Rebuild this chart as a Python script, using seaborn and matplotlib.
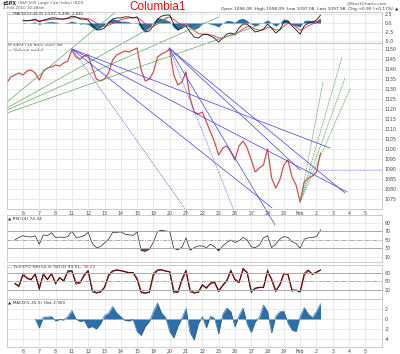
import matplotlib
matplotlib.use("Agg")
import matplotlib.pyplot as plt
import numpy as np
import pandas as pd
import seaborn as sns

# x axis in trading days (day 0 = Jan 6), one reading every quarter day
day_labels = ["6", "7", "8", "11", "12", "13", "14", "15", "19", "20", "21",
              "22", "25", "26", "27", "28", "29", "Feb", "2", "3", "4", "5"]
t = np.arange(78) * 0.25 - 1.0
nan = np.nan

price = [1133.0, 1136.0, 1137.0, 1138.0, 1137.0, 1139.0, 1139.5, 1138.0, 1134.5, 1139.0,
         1140.5, 1141.0, 1142.0, 1141.5, 1143.0, 1144.0, 1149.5, 1146.0, 1145.0, 1146.5,
         1147.0, 1140.5, 1135.0, 1134.0, 1135.0, 1138.0, 1144.5, 1147.0, 1148.0, 1149.0,
         1148.5, 1149.5, 1150.5, 1139.5, 1134.0, 1135.0, 1138.5, 1146.0, 1147.5, 1148.5,
         1150.0, 1137.0, 1132.0, 1133.5, 1138.5, 1125.5, 1118.5, 1117.5, 1118.5, 1113.5,
         1108.5, 1103.5, 1097.0, 1100.5, 1101.5, 1098.5, 1094.5, 1101.5, 1104.0, 1100.5,
         1094.5, 1088.5, 1090.5, 1092.0, 1100.0, 1085.5, 1080.5, 1084.5, 1092.0, 1094.5,
         1086.0, 1082.0, 1073.5, 1083.5, 1085.5, 1086.5, 1088.5, 1098.0]

macd_line = [nan] * 4 + [
    0.8, 0.6, 0.8, 1.1, 0.3, 0.8, 1.1, 1.4, 1.4, 1.1, 1.1, 1.4, 1.9, 1.7, 1.1, 1.1, 0.8, -0.6,
    -1.9, -1.9, -1.4, 0.0, 1.1, 1.4, 1.4, 1.7, 1.7, 1.4, 1.7, -0.8, -2.5, -2.2, -0.8, 1.1, 1.9,
    2.2, 2.2, -0.3, -1.9, -1.4, -0.8, -2.5, -3.9, -4.2, -3.3, -3.1, -3.6, -4.2, -5.3, -4.2, -3.1,
    -2.8, -3.1, -1.4, -0.3, -0.3, -1.4, -2.5, -2.2, -1.7, -0.3, -1.4, -2.8, -1.9, 0.3, 0.6, -0.8,
    -1.9, -3.1, -0.8, 0.0, 0.3, 0.8, 2.2]
macd_signal = [nan] * 4 + [
    0.6, 0.6, 0.7, 0.8, 0.7, 0.7, 0.8, 1.0, 1.1, 1.1, 1.1, 1.2, 1.4, 1.5, 1.4, 1.3, 1.2, 0.7,
    0.0, -0.6, -0.9, -0.6, -0.1, 0.5, 0.9, 1.2, 1.4, 1.4, 1.5, 0.8, -0.2, -0.9, -1.0, -0.3, 0.6,
    1.3, 1.7, 1.0, 0.1, -0.4, -0.6, -1.2, -2.1, -2.9, -3.1, -3.1, -3.3, -3.6, -4.2, -4.2, -3.8,
    -3.4, -3.3, -2.5, -1.6, -1.0, -1.1, -1.7, -2.0, -1.9, -1.2, -1.3, -1.9, -1.9, -0.9, -0.1, -0.4,
    -1.1, -2.0, -1.5, -0.8, -0.3, 0.2, 1.1]
macd_hist = [nan] * 4 + [
    0.2, 0.0, 0.1, 0.3, -0.4, 0.1, 0.3, 0.4, 0.3, 0.0, 0.0, 0.2, 0.5, 0.2, -0.3, -0.2, -0.4, -1.3,
    -1.9, -1.3, -0.5, 0.6, 1.2, 0.9, 0.5, 0.5, 0.3, 0.0, 0.2, -1.6, -2.3, -1.3, 0.2, 1.4, 1.3,
    0.9, 0.5, -1.3, -2.0, -1.0, -0.2, -1.3, -1.8, -1.3, -0.2, 0.0, -0.3, -0.6, -1.1, 0.0, 0.7,
    0.6, 0.2, 1.1, 1.3, 0.7, -0.3, -0.8, -0.2, 0.2, 0.9, -0.1, -0.9, 0.0, 1.2, 0.7, -0.4,
    -0.8, -1.1, 0.7, 0.8, 0.6, 0.6, 1.1]

rsi = [nan, nan, 50, 56, 60, 58, 57, 60, 40, 62, 60, 67, 56, 57, 56, 58, 71, 56, 57, 60,
       68, 42, 32, 34, 43, 52, 68, 68, 69, 64, 62, 61, 69, 25, 23, 28, 45, 70, 73, 71,
       70, 30, 27, 33, 55, 26, 32, 36, 36, 32, 40, 34, 24, 36, 44, 50, 44, 48, 56, 50,
       34, 32, 38, 55, 60, 32, 40, 52, 58, 56, 46, 42, 30, 52, 55, 56, 58, 74]

sto_k = [nan, nan, 45, 30, 80, 60, 55, 80, 20, 80, 55, 80, 40, 65, 50, 88, 88, 40, 45, 75,
         90, 13, 9, 13, 31, 75, 88, 91, 88, 84, 80, 82, 55, 9, 9, 12, 80, 91, 91, 86,
         84, 9, 12, 60, 91, 13, 9, 12, 40, 25, 45, 48, 13, 38, 55, 91, 55, 45, 98, 80,
         10, 27, 30, 28, 91, 55, 13, 40, 80, 75, 15, 20, 13, 80, 91, 73, 84, 91]
sto_d = [nan, nan, 42, 35, 72, 62, 57, 75, 28, 74, 58, 76, 45, 62, 53, 84, 87, 46, 46, 70,
         86, 20, 10, 13, 28, 69, 86, 90, 88, 85, 81, 81, 60, 14, 9, 12, 72, 89, 91, 87,
         84, 16, 12, 54, 86, 20, 10, 12, 36, 28, 42, 47, 18, 35, 52, 86, 58, 47, 92, 82,
         16, 25, 29, 29, 84, 58, 18, 37, 76, 76, 20, 19, 14, 72, 89, 76, 82, 90]

hist2 = [nan] * 7 + [
    0.0, -1.8, 0.4, 0.4, 0.5, -0.4, -0.1, -0.2, 0.5, 1.7, 0.0, -0.5, -0.3, -1.8, -1.5, -2.0,
    -1.0, 0.7, 1.2, 2.5, 1.2, 0.5, -0.3, -0.4, -0.1, -2.5, -3.3, -1.5, -0.5, 1.5, 3.2, 1.2,
    0.3, -2.5, -3.8, -1.5, 0.2, 2.1, -2.8, -4.2, -1.0, 0.5, -1.8, 0.6, 0.1, -3.0, 1.0, 2.2,
    1.5, -1.6, 0.7, 2.2, -1.0, -2.7, -0.5, 0.3, 2.8, 1.5, -2.8, 0.5, 1.5, 1.6, -0.8, -2.2,
    -2.5, 0.5, 2.3, 1.0, 0.3, 1.5, 3.1]

# drawn trend lines (day, price) -> (day, price)
green_left = [(-0.98, 1123.5, 5.6, 1168.0), (-0.98, 1120.5, 9.0, 1166.0),
              (-0.98, 1119.5, 12.0, 1166.0), (-0.98, 1118.0, 14.5, 1162.0)]
green_right = [(17.0, 1073.5, 18.4, 1133.5), (17.0, 1073.5, 19.57, 1146.0),
               (17.0, 1073.5, 19.75, 1135.5), (17.0, 1073.5, 20.06, 1130.0)]
blue_solid = [(3.0, 1150.0, 19.88, 1078.5), (3.0, 1150.0, 15.28, 1070.5),
              (3.0, 1150.0, 18.83, 1100.5), (8.96, 1150.5, 19.75, 1078.0),
              (8.96, 1150.5, 15.46, 1062.0), (8.96, 1150.5, 17.0, 1089.5)]
blue_dotted = [(3.0, 1150.0, 10.12, 1068.0), (8.96, 1150.5, 13.0, 1068.0)]
last_line = (18.1, 22.0, 1089.5)

sns.set_theme(style="white")
plt.rcParams["font.family"] = ["DejaVu Sans"]

W, H = 400, 354
fig = plt.figure(figsize=(4.0, 3.54), dpi=100)
fig.patch.set_facecolor("white")


def panel(top, bottom):
    return fig.add_axes([7 / W, 1 - bottom / H, 375 / W, (bottom - top) / H])


def style(ax, yticks, ylim, ylabels=None, xlabels=False):
    ax.set_xlim(-0.98, 22.02)
    ax.set_ylim(*ylim)
    ax.set_xticks(range(22))
    ax.set_xticklabels(day_labels if xlabels else [])
    ax.set_yticks(yticks)
    ax.set_yticklabels(ylabels if ylabels else [str(v) for v in yticks])
    ax.yaxis.tick_right()
    ax.tick_params(length=0, labelsize=3.4, colors="#444444", pad=2)
    ax.grid(True, color="#e2e2e2", lw=0.5)
    ax.patch.set_alpha(0)
    for s in ax.spines.values():
        s.set_color("#c4c4c4")
        s.set_linewidth(0.6)
    ax.set_xlabel("")
    ax.set_ylabel("")


df = pd.DataFrame({"t": t, "price": price, "macd": macd_line, "signal": macd_signal,
                   "hist": macd_hist, "rsi": rsi, "k": sto_k, "d": sto_d, "hist2": hist2})

# MACD on top
ax0 = panel(12, 43)
ax0.fill_between(df["t"], 0, df["hist"], color="#2f6fa8", lw=0)
sns.lineplot(data=df, x="t", y="signal", ax=ax0, color="#e03030", lw=0.6)
sns.lineplot(data=df, x="t", y="macd", ax=ax0, color="#111111", lw=0.6)
style(ax0, [2.5, 0.0, -2.5, -5.0], (-5.56, 3.06), ["2.5", "0.0", "-2.5", "-5.0"])

# price (15-min bars look: pale body with darker core)
ax1 = panel(43, 209)
sns.lineplot(data=df, x="t", y="price", ax=ax1, color="#eeb0b0", lw=1.2)
sns.lineplot(data=df, x="t", y="price", ax=ax1, color="#b02828", lw=0.45)
style(ax1, list(range(1075, 1151, 5)), (1070, 1153), xlabels=True)
ax1.tick_params(axis="x", pad=1.5)
ax1.set_zorder(5)
for x0, y0, x1, y1 in green_left:
    ax1.plot([x0, x1], [y0, y1], color="#5fa85f", lw=0.5, clip_on=False)
for x0, y0, x1, y1 in green_right:
    ax1.plot([x0, x1], [y0, y1], color="#4f9f4f", lw=0.5, ls=(0, (2, 1)), clip_on=False)
for x0, y0, x1, y1 in blue_solid:
    ax1.plot([x0, x1], [y0, y1], color="#4040e0", lw=0.5, clip_on=False)
for x0, y0, x1, y1 in blue_dotted:
    ax1.plot([x0, x1], [y0, y1], color="#6060f0", lw=0.5, ls=(0, (1.5, 1)), clip_on=False)
ax1.plot([last_line[0], last_line[1]], [last_line[2]] * 2, color="#7070ff", lw=0.5,
         ls=(0, (1, 1)))

# RSI
ax2 = panel(215, 262)
ax2.fill_between(df["t"], 70, df["rsi"], where=df["rsi"] > 70, color="#4d8f4d",
                 interpolate=True, lw=0)
ax2.fill_between(df["t"], 30, df["rsi"], where=df["rsi"] < 30, color="#8b4545",
                 interpolate=True, lw=0)
sns.lineplot(data=df, x="t", y="rsi", ax=ax2, color="#222222", lw=0.5)
for lv, ls in [(70, "-"), (30, "-"), (50, (0, (4, 1.5, 1, 1.5)))]:
    ax2.axhline(lv, color="#aaaaaa", lw=0.7, ls=ls)
style(ax2, [90, 70, 50, 30, 10], (-1.8, 108.8))

# Full stochastics
ax3 = panel(265, 299)
sns.lineplot(data=df, x="t", y="d", ax=ax3, color="#b01818", lw=1.0)
sns.lineplot(data=df, x="t", y="k", ax=ax3, color="#111111", lw=0.45)
for lv, ls in [(80, "-"), (20, "-"), (50, (0, (4, 1.5, 1, 1.5)))]:
    ax3.axhline(lv, color="#aaaaaa", lw=0.7, ls=ls)
style(ax3, [80, 50, 20], (-11.8, 108))

# MACD histogram
ax4 = panel(299, 347)
ax4.fill_between(df["t"], 0, df["hist2"], color="#2f6fa8", lw=0)
sns.lineplot(data=df, x="t", y="hist2", ax=ax4, color="#1f5f98", lw=0.4)
style(ax4, [2, 0, -2, -4], (-5.6, 4.0), xlabels=True)
ax4.tick_params(axis="x", pad=1.5)


def px(x, y):
    return x / W, 1 - y / H


fs = 3.1
fig.text(*px(3, 3), "$SPX", fontsize=3.4, weight="bold", va="center")
fig.text(*px(18, 3), "(S&P 500 Large Cap Index) INDX", fontsize=2.9, va="center", color="#555555")
fig.text(*px(3, 8), "2-Feb-2010 10:28am", fontsize=2.9, va="center", color="#555555")
fig.text(*px(158, 7), "Columbia1", fontsize=8.5, color="#e01010", va="center", ha="center",
         family=["Liberation Sans", "DejaVu Sans"])
fig.text(*px(387, 3), "@StockCharts.com", fontsize=fs, va="center", ha="right", color="#555555")
fig.text(*px(398, 9), "Open 1096.08  High 1098.09  Low 1097.08  Last 1097.98  Chg +0.90 (+0.17%) \u25b2",
         fontsize=3.2, va="center", ha="right", color="#333333")
fig.text(*px(8, 14), "\u2014 MACD(12,26,9) 2.537, 1.496, 1.041", fontsize=2.9, va="center", color="#333333")
fig.text(*px(8, 45), "M $SPX (15 min) 1097.98", fontsize=fs, va="center", color="#333333")
fig.text(*px(8, 50), "\u2014 Volume undef", fontsize=fs, va="center", color="#333333")
fig.text(*px(8, 219), "\u25b2 RSI(14) 74.34", fontsize=fs, va="center", color="#333333")
fig.text(*px(8, 267), "\u2014 Full STO %K(14,3) %D(3) 93.51,", fontsize=fs, va="center", color="#333333")
fig.text(*px(84, 267), "90.22", fontsize=fs, va="center", color="#e03030")
fig.text(*px(8, 302), "\u25b2 MACD(5,35,5) Hist 2.900", fontsize=fs, va="center", color="#333333")

fig.savefig("out.png", dpi=100, facecolor="white")
